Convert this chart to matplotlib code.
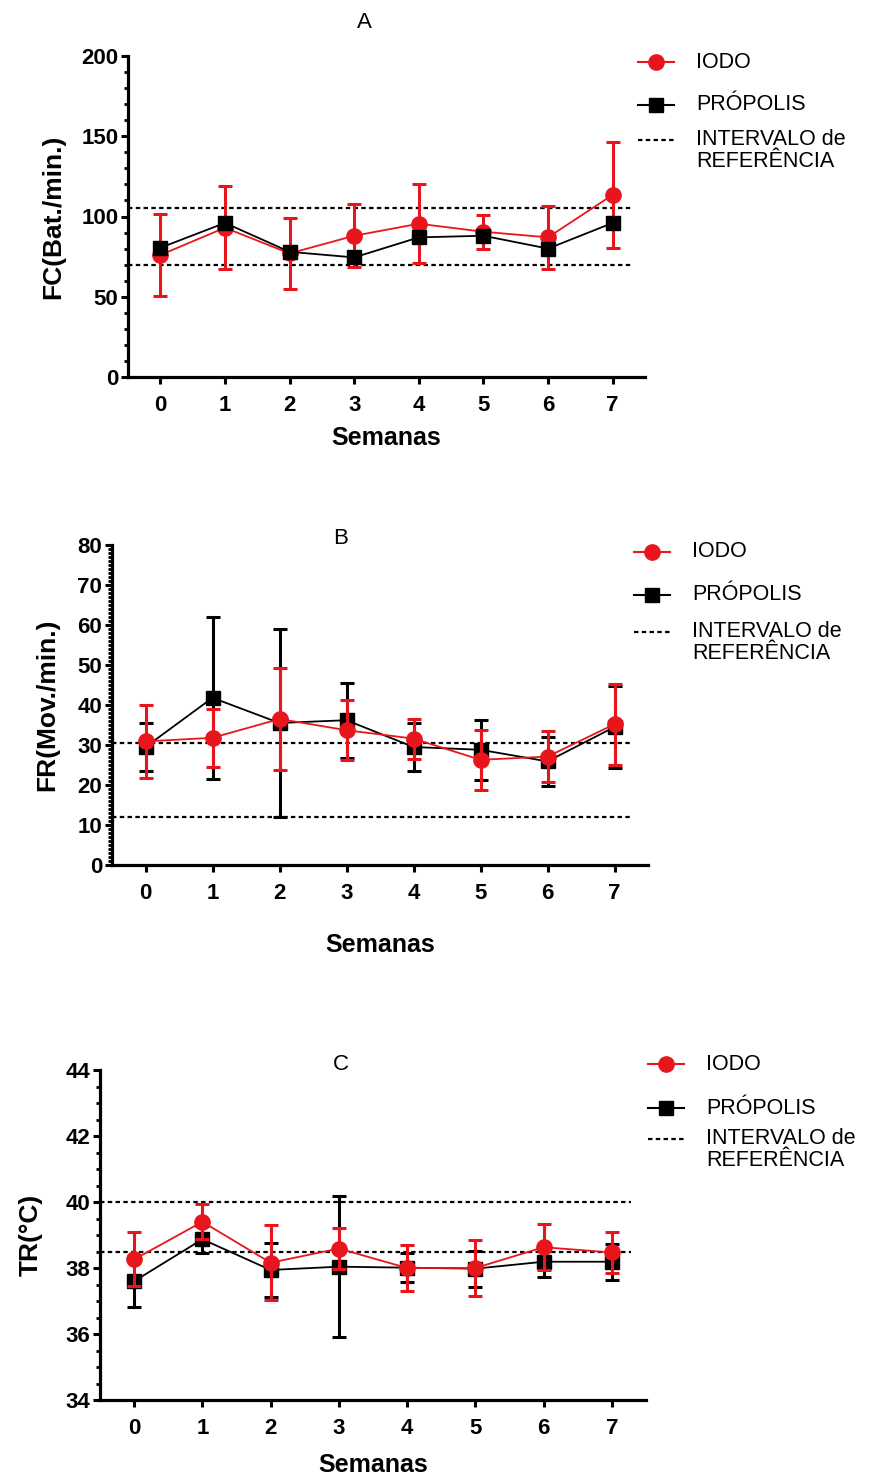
import numpy as np
import matplotlib
matplotlib.use('Agg')
import matplotlib.pyplot as plt
from matplotlib.lines import Line2D
from matplotlib.ticker import MultipleLocator

plt.rcParams['font.family'] = ['Liberation Sans', 'DejaVu Sans']

semanas = [0, 1, 2, 3, 4, 5, 6, 7]

# A - FC (Bat./min.)
fc_iodo = [76, 93, 77, 88, 95.5, 90.5, 87, 113.5]
fc_iodo_sd = [25.5, 26, 22, 19.5, 24.7, 10.5, 19.6, 33]
fc_prop = [80.5, 96, 78, 74.5, 87, 88, 80, 96]
fc_ref = [70, 105]

# B - FR (Mov./min.)
fr_iodo = [30.9, 31.8, 36.5, 33.7, 31.6, 26.3, 27.1, 35.2]
fr_iodo_sd = [9.2, 7.3, 12.8, 7.5, 5.0, 7.5, 6.3, 10.1]
fr_prop = [29.5, 41.8, 35.5, 36.2, 29.5, 28.8, 25.9, 34.5]
fr_prop_sd = [6.0, 20.2, 23.6, 9.4, 6.0, 7.5, 6.2, 10.2]
fr_ref = [12, 30.5]

# C - TR (°C)
tr_iodo = [38.26, 39.40, 38.16, 38.59, 38.00, 38.00, 38.63, 38.47]
tr_iodo_sd = [0.82, 0.53, 1.14, 0.62, 0.69, 0.85, 0.70, 0.62]
tr_prop = [37.60, 38.87, 37.94, 38.04, 38.01, 37.98, 38.19, 38.19]
tr_prop_sd = [0.77, 0.41, 0.83, 2.14, 0.43, 0.55, 0.45, 0.55]
tr_ref = [38.5, 40]

RED = '#e8161c'
W, H = 876, 1478

fig = plt.figure(figsize=(W / 100, H / 100), dpi=100)


def px_axes(left, right, top, bottom):
    return fig.add_axes([left / W, 1 - bottom / H, (right - left) / W, (bottom - top) / H])


def style_axes(ax, ylim, major, minor, ylabel, ylab_x, xlab_y):
    ax.set_xlim(-0.5, 7.5)
    ax.set_ylim(*ylim)
    ax.set_xticks(semanas)
    ax.yaxis.set_major_locator(MultipleLocator(major))
    ax.yaxis.set_minor_locator(MultipleLocator(minor))
    for s in ['top', 'right']:
        ax.spines[s].set_visible(False)
    for s in ['left', 'bottom']:
        ax.spines[s].set_linewidth(2.3)
    ax.tick_params(axis='both', which='major', length=5, width=2.2, labelsize=16)
    ax.tick_params(axis='x', pad=8)
    ax.tick_params(axis='y', pad=2)
    ax.tick_params(axis='y', which='minor', length=3, width=2)
    for lab in ax.get_xticklabels() + ax.get_yticklabels():
        lab.set_fontweight('bold')
    ax.set_ylabel(ylabel, fontsize=19, fontweight='bold', va='center')
    ax.yaxis.set_label_coords(ylab_x, 0.5)
    ax.set_xlabel('Semanas', fontsize=18, fontweight='bold', va='center')
    ax.xaxis.set_label_coords(0.5, xlab_y)


def ref_lines(ax, ref):
    for r in ref:
        ax.plot([-0.5, 7.28], [r, r], color='black', lw=1.6, dashes=(2, 1.5), zorder=1)


def legend(x0, y_iodo, y_prop, y_ref):
    x1 = x0 + 36
    xt = x0 + 58
    fig.add_artist(Line2D([x0 / W, x1 / W], [1 - y_iodo / H] * 2, color=RED, lw=1.5,
                          marker='o', markersize=11, markevery=[], transform=fig.transFigure))
    fig.add_artist(Line2D([(x0 + x1) / 2 / W], [1 - y_iodo / H], color=RED, marker='o',
                          markersize=11, lw=0, transform=fig.transFigure))
    fig.add_artist(Line2D([x0 / W, x1 / W], [1 - y_prop / H] * 2, color='black', lw=1.5,
                          transform=fig.transFigure))
    fig.add_artist(Line2D([(x0 + x1) / 2 / W], [1 - y_prop / H], color='black', marker='s',
                          markersize=10, lw=0, transform=fig.transFigure))
    fig.add_artist(Line2D([x0 / W, x1 / W], [1 - y_ref / H] * 2, color='black', lw=1.6,
                          dashes=(2, 1.5), transform=fig.transFigure))
    fig.text(xt / W, 1 - y_iodo / H, 'IODO', fontsize=15.5, va='center')
    fig.text(xt / W, 1 - y_prop / H, 'PRÓPOLIS', fontsize=15.5, va='center')
    fig.text(xt / W, 1 - (y_ref - 11) / H, 'INTERVALO de\nREFERÊNCIA', fontsize=15.5,
             va='top', linespacing=1.05)


# ---------------- A ----------------
axA = px_axes(128, 645, 56, 377)
ref_lines(axA, fc_ref)
axA.errorbar(semanas, fc_iodo, yerr=fc_iodo_sd, color=RED, marker='o', markersize=11,
             lw=1.3, elinewidth=2.2, capsize=5, capthick=2.2, zorder=3)
axA.plot(semanas, fc_prop, color='black', marker='s', markersize=10, lw=1.3, zorder=4)
style_axes(axA, (0, 200), 50, 10, 'FC(Bat./min.)', -0.145, -0.19)
fig.text(364 / W, 1 - 23 / H, 'A', fontsize=16, ha='center', va='center')
legend(638, 62, 105, 140)

# ---------------- B ----------------
axB = px_axes(112, 648, 545, 865)
ref_lines(axB, fr_ref)
axB.errorbar(semanas, fr_prop, yerr=fr_prop_sd, color='black', marker='s', markersize=10,
             lw=1.3, elinewidth=2.2, capsize=5, capthick=2.2, zorder=3)
axB.errorbar(semanas, fr_iodo, yerr=fr_iodo_sd, color=RED, marker='o', markersize=11,
             lw=1.3, elinewidth=2.2, capsize=5, capthick=2.2, zorder=4)
style_axes(axB, (0, 80), 10, 1, 'FR(Mov./min.)', -0.12, -0.25)
fig.text(341 / W, 1 - 539 / H, 'B', fontsize=16, ha='center', va='center')
legend(634, 552, 595, 632)

# ---------------- C ----------------
axC = px_axes(100, 646, 1070, 1400)
ref_lines(axC, tr_ref)
axC.errorbar(semanas, tr_prop, yerr=tr_prop_sd, color='black', marker='s', markersize=10,
             lw=1.3, elinewidth=2.2, capsize=5, capthick=2.2, zorder=3)
axC.errorbar(semanas, tr_iodo, yerr=tr_iodo_sd, color=RED, marker='o', markersize=11,
             lw=1.3, elinewidth=2.2, capsize=5, capthick=2.2, zorder=4)
style_axes(axC, (34, 44), 2, 0.5, 'TR(°C)', -0.126, -0.197)
fig.text(341 / W, 1 - 1065 / H, 'C', fontsize=16, ha='center', va='center')
legend(648, 1064, 1108, 1139)

fig.savefig('out.png', dpi=100)
